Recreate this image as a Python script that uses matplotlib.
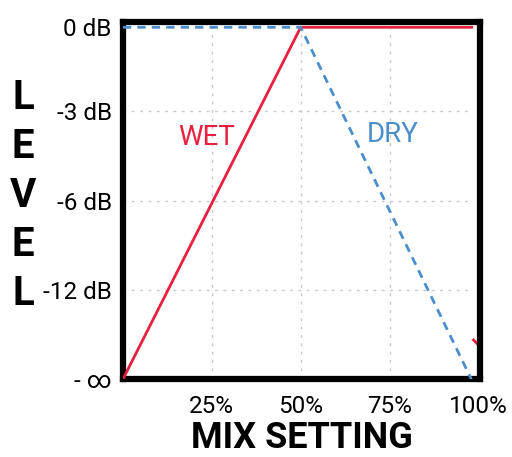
import matplotlib
matplotlib.use("Agg")
import matplotlib.pyplot as plt

plt.rcParams['font.family'] = ['Roboto', 'DejaVu Sans']

# mix setting in percent, level on an index scale (0 = -inf, 4 = 0 dB)
mix_ticks = [25, 50, 75, 100]
mix_labels = ['25%', '50%', '75%', '100%']
level_ticks = [0, 1, 2, 3, 3.94]
level_labels = ['- \u221e', '-12 dB', '-6 dB', '-3 dB', '0 dB']

wet_x = [0, 50, 98.5]
wet_y = [0, 3.94, 3.94]
dry_x = [0, 50, 98]
dry_y = [3.94, 3.94, 0]

red = '#E8203F'
blue = '#4A8ECC'

fig = plt.figure(figsize=(5.12, 4.57), dpi=100)
ax = fig.add_axes([0.240, 0.170, 0.698, 0.782])

ax.plot(wet_x, wet_y, color=red, lw=2, solid_capstyle='butt', zorder=3)
ax.plot(dry_x, dry_y, color=blue, lw=2, ls=(0, (3, 2.2)), zorder=3)
# small stray piece of the wet curve at the right edge
ax.plot([98.6, 99.6], [0.44, 0.40], color=red, lw=2, zorder=2)

ax.set_xlim(0, 100.5)
ax.set_ylim(0, 4.0)

ax.set_xticks(mix_ticks, mix_labels)
ax.set_yticks(level_ticks, level_labels)
ax.tick_params(length=0, labelsize=17.5)
ax.tick_params(axis='x', pad=11)
ax.tick_params(axis='y', pad=8)

for x in mix_ticks[:-1]:
    ax.axvline(x, color='#c8c8c8', lw=1, ls=(0, (2, 4)), zorder=1)
for y in level_ticks[1:4]:
    ax.plot([0, 98], [y, y], color='#c8c8c8', lw=1, ls=(0, (2, 4)), zorder=1)

for s in ax.spines.values():
    s.set_linewidth(4.5)
    s.set_color('black')

ax.text(23.5, 2.71, 'WET', color=red, fontsize=20, ha='center', va='center')
ax.text(76, 2.74, 'DRY', color=blue, fontsize=20, ha='center', va='center')

ax.set_xlabel('MIX SETTING', fontsize=26, fontweight='bold', labelpad=2)

for i, ch in enumerate('LEVEL'):
    fig.text(23 / 512, 1 - (98 + 49 * i) / 457, ch, fontsize=29,
             fontweight='bold', ha='center', va='center')

fig.savefig('out.png', dpi=100)
